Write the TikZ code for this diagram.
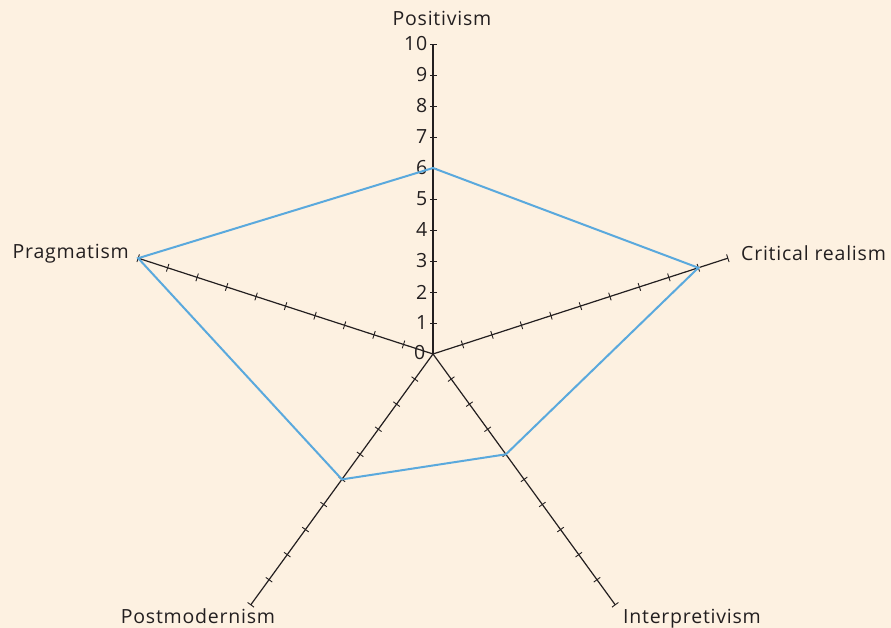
\documentclass[tikz,border=0pt]{standalone}
\usepackage{fontspec}
\setmainfont{Open Sans}[LetterSpace=4.0]
\definecolor{bgcol}{HTML}{FDF1E1}
\definecolor{valcol}{HTML}{5AA9DD}
\definecolor{ink}{HTML}{231F20}
\tikzset{
  axisline/.style={draw=ink, line width=1.2pt},
  tickline/.style={draw=ink, line width=0.9pt},
  valline/.style={draw=valcol, line width=2pt, line join=miter},
  lbl/.style={text=ink, inner sep=0pt, font=\fontsize{19.5}{22}\selectfont},
  num/.style={text=ink, inner sep=0pt, anchor=east, font=\fontsize{19.5}{22}\selectfont}
}
\begin{document}
\begin{tikzpicture}[x=1pt,y=1pt]
\fill[bgcol] (0,0) rectangle (891,-628);
\useasboundingbox (0,0) rectangle (891,-628);
\coordinate (O) at (433,-354);
% axes
\foreach \nm/\ang/\val in {pos/90/6, cr/18/9, int/-54/4, pm/-126/5, pr/162/10} {
  \coordinate (\nm-end) at ([shift={(\ang:310)}]O);
  \coordinate (\nm-v) at ([shift={(\ang:31*\val)}]O);
  \draw[axisline] (O) -- (\nm-end);
}
% ticks on the slanted axes
\foreach \nm/\ang in {cr/18, int/-54, pm/-126, pr/162} {
  \foreach \k in {1,...,10} {
    \coordinate (\nm-t\k) at ([shift={(\ang:31*\k)}]O);
    \draw[tickline] ([shift={(\ang+90:4)}]\nm-t\k) -- ([shift={(\ang-90:4)}]\nm-t\k);
  }
}
% ticks and numbers on the Positivism axis
\foreach \k in {1,...,10} {
  \coordinate (pos-t\k) at ([shift={(90:31*\k)}]O);
  \draw[tickline] ([xshift=-3pt]pos-t\k) -- ++(7,0);
  \node[num] (n\k) at ([xshift=-5.5pt]pos-t\k) {\k};
}
\node[num] (n0) at ([xshift=-7.5pt,yshift=1.5pt]O) {0};
% values
\draw[valline] (pos-v) -- (cr-v) -- (int-v) -- (pm-v) -- (pr-v) -- cycle;
% labels
\node[lbl, anchor=base] (lpos) at (442,-25.3) {Positivism};
\node[lbl, anchor=base west] (lcr) at (741,-260.5) {Critical realism};
\node[lbl, anchor=base east] (lpr) at (129,-259) {Pragmatism};
\node[lbl, anchor=base] (lpm) at (198,-623.5) {Postmodernism};
\node[lbl, anchor=base] (lint) at (692,-623.5) {Interpretivism};
\end{tikzpicture}
\end{document}
